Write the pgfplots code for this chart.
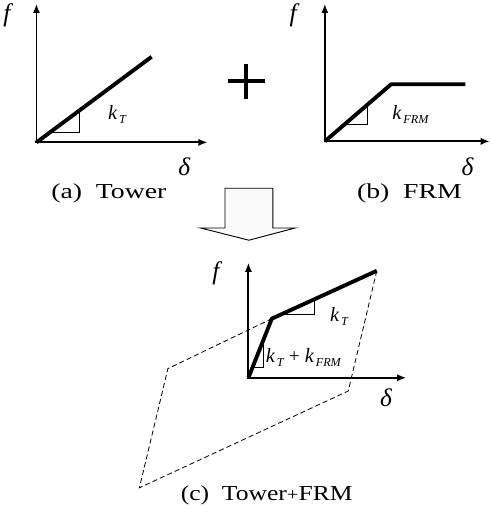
\documentclass[border=0pt]{standalone}
\usepackage{pgfplots}
\pgfplotsset{compat=1.18}
\usetikzlibrary{arrows.meta}
\usepackage{fontspec}
\setmainfont{Liberation Serif}

\newcommand{\sym}[1]{{\fontsize{25}{25}\selectfont\itshape #1}}
\newcommand{\kk}[1]{{\fontsize{20}{20}\selectfont\itshape k\raisebox{-4bp}{\fontsize{12}{12}\selectfont\,#1}}}
\newcommand{\capt}[1]{{\fontsize{21}{21}\selectfont #1}}

\begin{document}
\begin{tikzpicture}
\begin{axis}[
  width=491bp, height=508bp, scale only axis,
  xmin=0, xmax=491, ymin=0, ymax=508, y dir=reverse,
  hide axis, clip=false,
  axisline/.style={line width=1.8bp, -{Latex[length=9bp,width=7bp]}},
  curve/.style={line width=3.8bp, line join=round},
  tri/.style={line width=0.8bp},
]
% (a) Tower
\addplot[axisline] coordinates {(44,147) (44,10)};
\addplot[axisline] coordinates {(43,146) (212,146)};
\addplot[curve] coordinates {(44,146) (157,62)};
\addplot[tri] coordinates {(86,115) (86,136) (58,136)};
\node at (axis cs:15,21) {\sym{f}};
\node at (axis cs:189,170) {\sym{δ}};
\node at (axis cs:123,119) {\kk{T}};
\node[xscale=1.3] at (axis cs:115,196) {\capt{(a)\ \ Tower}};

% plus sign
\addplot[line width=4bp] coordinates {(232,86) (268,86)};
\addplot[line width=4bp] coordinates {(250,69) (250,103)};

% (b) FRM
\addplot[axisline] coordinates {(327,146) (327,10)};
\addplot[axisline] coordinates {(326,145) (489,145)};
\addplot[curve] coordinates {(327,145) (392,89) (465,89)};
\addplot[tri] coordinates {(369,109) (369,128) (347,128)};
\node at (axis cs:296,21) {\sym{f}};
\node at (axis cs:467,170) {\sym{δ}};
\node at (axis cs:411,119) {\kk{FRM}};
\node[xscale=1.3] at (axis cs:410,196) {\capt{(b)\ \ FRM}};

% hollow arrow
\addplot[draw=black, line width=0.9bp, fill=gray!4] coordinates {
  (229,191) (276,191) (276,230) (298,230) (252.5,242) (205,230) (229,230) (229,191)} -- cycle;

% (c) Tower+FRM
\addplot[dash pattern=on 5bp off 3bp, line width=0.8bp] coordinates {
  (378,272) (350,390) (145,485) (173,368) (275,319)};
\addplot[axisline] coordinates {(252,378) (252,264)};
\addplot[axisline] coordinates {(251,377) (407,377)};
\addplot[curve] coordinates {(252,377) (275,319) (378,272)};
\addplot[tri] coordinates {(317,300) (317,315) (284,315)};
\addplot[tri] coordinates {(267,339) (267,367) (256,367)};
\node at (axis cs:220,274) {\sym{f}};
\node at (axis cs:387,397) {\sym{δ}};
\node at (axis cs:341,317) {\kk{T}};
\node[anchor=west, inner sep=0pt] at (axis cs:269,357) {\kk{T}\ \ {\fontsize{19}{19}\selectfont +}\ \ \kk{FRM}};
\node[xscale=1.2] at (axis cs:270,492) {\capt{(c)\ \ Tower{\fontsize{17}{17}\selectfont +}FRM}};
\end{axis}
\end{tikzpicture}
\end{document}
